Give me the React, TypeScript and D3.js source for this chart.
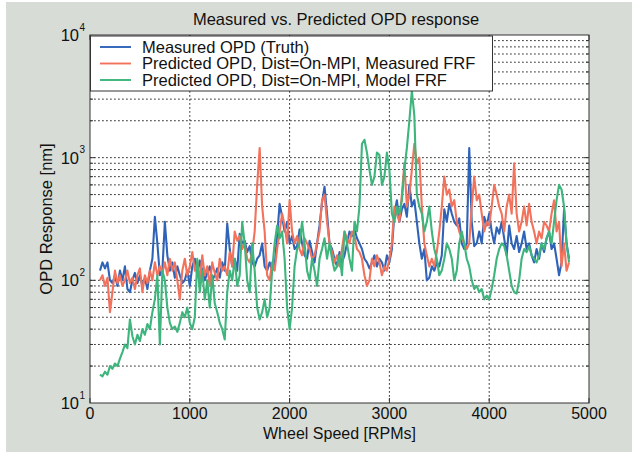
import React, { useEffect, useRef } from 'react';
import * as d3 from 'd3';

// wheel speed grid: 100 .. 4800 RPM, every 25 RPM
const rpmStart = 100;
const rpmStep = 25;

const measuredTruth = [
  120, 140, 125, 140, 100, 95, 110, 90,
  120, 100, 130, 85, 80, 100, 115, 95,
  110, 90, 105, 85, 120, 150, 330, 200,
  110, 120, 300, 160, 120, 140, 105, 130,
  110, 95, 100, 120, 90, 130, 150, 110,
  145, 120, 100, 115, 130, 100, 110, 125,
  105, 140, 120, 290, 180, 130, 150, 120,
  240, 200, 210, 170, 190, 140, 130, 150,
  160, 200, 130, 120, 140, 120, 130, 230,
  420, 330, 250, 300, 200, 230, 180, 190,
  260, 200, 160, 150, 210, 170, 140, 200,
  280, 430, 580, 350, 200, 180, 150, 130,
  170, 140, 160, 200, 250, 230, 260, 220,
  200, 180, 150, 140, 125, 140, 160, 130,
  150, 140, 120, 160, 140, 180, 350, 450,
  300, 380, 420, 330, 600, 400, 450, 300,
  200, 150, 180, 100, 105, 130, 120, 140,
  130, 160, 380, 300, 420, 350, 300, 280,
  320, 200, 180, 200, 1200, 300, 190, 200,
  250, 200, 330, 280, 350, 250, 200, 270,
  240, 300, 220, 160, 280, 200, 180, 230,
  170, 200, 250, 180, 200, 160, 140, 180,
  150, 200, 170, 220, 250, 180, 200, 150,
  110, 140, 380, 200, 150,
];

const predictedMeasuredFrf = [
  100, 110, 90, 105, 55, 80, 120, 95,
  110, 90, 100, 120, 95, 105, 85, 110,
  125, 80, 110, 95, 120, 100, 140, 110,
  130, 115, 140, 110, 150, 120, 140, 100,
  70, 120, 150, 110, 130, 170, 120, 140,
  100, 160, 110, 130, 90, 140, 115, 100,
  150, 120, 130, 110, 170, 130, 250, 210,
  230, 180, 200, 150, 140, 170, 250, 600,
  1200, 400, 250, 110, 100, 140, 120, 180,
  250, 350, 280, 200, 450, 250, 200, 230,
  180, 160, 220, 200, 180, 150, 160, 200,
  250, 450, 500, 300, 200, 170, 140, 160,
  130, 180, 250, 220, 200, 250, 230, 180,
  170, 150, 110, 90, 100, 150, 130, 160,
  140, 110, 130, 120, 150, 200, 400, 350,
  300, 500, 900, 400, 500, 800, 1300, 900,
  1000, 400, 200, 160, 130, 150, 130, 170,
  250, 400, 700, 500, 550, 400, 450, 300,
  250, 220, 200, 180, 200, 400, 700, 450,
  500, 350, 250, 300, 280, 400, 600, 500,
  400, 350, 250, 400, 500, 350, 900, 350,
  250, 300, 400, 280, 420, 300, 250, 200,
  250, 220, 300, 280, 250, 350, 450, 250,
  300, 130, 200, 120, 140,
];

const predictedModelFrf = [
  17, 16.5, 18, 17, 20, 19, 21, 20,
  23, 26, 30, 28, 48, 35, 30, 36,
  32, 40, 36, 44, 40, 55, 70, 110,
  30, 120, 100, 60, 45, 40, 42, 38,
  45, 55, 50, 60, 45, 40, 50, 150,
  80, 120, 70, 100, 60, 110, 65, 55,
  45, 40, 33, 80, 120, 100, 150, 90,
  110, 300, 200, 100, 80, 200, 120, 60,
  48, 55, 70, 50, 60, 120, 200, 280,
  220, 250, 150, 60, 40, 60, 130, 180,
  200, 300, 200, 120, 100, 150, 120, 90,
  150, 180, 220, 150, 200, 150, 120, 130,
  160, 110, 250, 200, 150, 120, 300, 250,
  400, 1300, 1400, 1100, 800, 600, 700, 1100,
  1050, 600, 700, 1100, 800, 350, 300, 400,
  350, 450, 800, 1200, 2000, 3500, 2200, 500,
  400, 350, 250, 300, 400, 250, 180, 150,
  110, 120, 150, 200, 180, 150, 100, 120,
  200, 250, 200, 150, 130, 100, 85, 90,
  80, 85, 70, 75, 70, 85, 110, 150,
  180, 200, 190, 160, 120, 90, 80, 78,
  100, 150, 180, 170, 190, 160, 150, 140,
  160, 200, 180, 220, 250, 200, 300, 450,
  600, 550, 400, 200, 140,
];

const xTicks = [0, 1000, 2000, 3000, 4000, 5000];
const yExponents = [1, 2, 3, 4];
const legendLabels = [
  'Measured OPD (Truth)',
  'Predicted OPD, Dist=On-MPI, Measured FRF',
  'Predicted OPD, Dist=On-MPI, Model FRF',
];
const seriesColors = ['#2f63b8', '#f2725c', '#3db57c'];

const App = () => {
  const ref = useRef<SVGSVGElement | null>(null);

  useEffect(() => {
    const svg = d3.select(ref.current);
    svg.selectAll('*').remove();

    const W = 639, H = 456;
    const left = 90, right = 589, top = 35, bottom = 403;
    const font = 'Arial, "Liberation Sans", Helvetica, sans-serif';

    const x = d3.scaleLinear().domain([0, 5000]).range([left, right]);
    const y = d3.scaleLog().domain([10, 10000]).range([bottom, top]);

    svg.append('rect').attr('width', W).attr('height', H).attr('fill', '#fff');
    svg.append('rect')
      .attr('x', 6).attr('y', 2).attr('width', 626).attr('height', 450)
      .attr('fill', '#d8dcd6');
    svg.append('rect')
      .attr('x', left).attr('y', top)
      .attr('width', right - left).attr('height', bottom - top)
      .attr('fill', '#fff');

    // grid
    const grid = svg.append('g')
      .attr('stroke', '#3a3a3a').attr('stroke-width', 1)
      .attr('stroke-dasharray', '1.8,2.2');
    const yGrid: number[] = [];
    [10, 100, 1000].forEach(d => {
      for (let m = 1; m <= 9; m++) {
        const v = m * d;
        if (v > 10) yGrid.push(v);
      }
    });
    yGrid.forEach(v => {
      grid.append('line')
        .attr('x1', left).attr('x2', right)
        .attr('y1', y(v)).attr('y2', y(v));
    });
    xTicks.slice(1, -1).forEach(v => {
      grid.append('line')
        .attr('x1', x(v)).attr('x2', x(v))
        .attr('y1', top).attr('y2', bottom);
    });

    // series
    const rpm = (i: number) => rpmStart + rpmStep * i;
    const line = d3.line<number>()
      .x((_, i) => x(rpm(i)))
      .y(d => y(d));
    [measuredTruth, predictedMeasuredFrf, predictedModelFrf].forEach((s, k) => {
      svg.append('path')
        .datum(s)
        .attr('fill', 'none')
        .attr('stroke', seriesColors[k])
        .attr('stroke-width', 2.1)
        .attr('stroke-linejoin', 'round')
        .attr('d', line);
    });

    // box + ticks
    const axes = svg.append('g').attr('stroke', '#333').attr('stroke-width', 1);
    axes.append('rect')
      .attr('x', left).attr('y', top)
      .attr('width', right - left).attr('height', bottom - top)
      .attr('fill', 'none');
    xTicks.forEach(v => {
      axes.append('line').attr('x1', x(v)).attr('x2', x(v)).attr('y1', bottom).attr('y2', bottom - 5);
      axes.append('line').attr('x1', x(v)).attr('x2', x(v)).attr('y1', top).attr('y2', top + 5);
    });
    yGrid.forEach(v => {
      const len = [100, 1000].includes(v) ? 5 : 3;
      axes.append('line').attr('x1', left).attr('x2', left + len).attr('y1', y(v)).attr('y2', y(v));
      axes.append('line').attr('x1', right).attr('x2', right - len).attr('y1', y(v)).attr('y2', y(v));
    });

    // tick labels
    xTicks.forEach(v => {
      svg.append('text')
        .attr('x', x(v)).attr('y', 419)
        .attr('text-anchor', 'middle')
        .style('font-family', font).style('font-size', '16px')
        .attr('fill', '#111')
        .text(v);
    });
    yExponents.forEach(e => {
      const yy = y(Math.pow(10, e));
      svg.append('text')
        .attr('x', 79).attr('y', yy + 6)
        .attr('text-anchor', 'end')
        .style('font-family', font).style('font-size', '16.5px')
        .attr('fill', '#111')
        .text('10');
      svg.append('text')
        .attr('x', 79.5).attr('y', yy - 4.5)
        .style('font-family', font).style('font-size', '10px')
        .attr('fill', '#111')
        .text(e);
    });

    // titles
    svg.append('text')
      .attr('x', 336).attr('y', 25)
      .attr('text-anchor', 'middle')
      .style('font-family', font).style('font-size', '16.5px')
      .attr('fill', '#111')
      .text('Measured vs. Predicted OPD response');
    svg.append('text')
      .attr('x', (left + right) / 2).attr('y', 439)
      .attr('text-anchor', 'middle')
      .style('font-family', font).style('font-size', '16px')
      .attr('fill', '#111')
      .text('Wheel Speed [RPMs]');
    svg.append('text')
      .attr('transform', `translate(52,${(top + bottom) / 2}) rotate(-90)`)
      .attr('text-anchor', 'middle')
      .style('font-family', font).style('font-size', '16.5px')
      .attr('fill', '#111')
      .text('OPD Response [nm]');

    // legend
    const lg = svg.append('g');
    lg.append('rect')
      .attr('x', 90.5).attr('y', 36).attr('width', 402).attr('height', 55)
      .attr('fill', '#fff').attr('stroke', '#333').attr('stroke-width', 1);
    legendLabels.forEach((label, i) => {
      const ly = 47 + i * 16.5;
      lg.append('line')
        .attr('x1', 100).attr('x2', 131).attr('y1', ly).attr('y2', ly)
        .attr('stroke', seriesColors[i]).attr('stroke-width', 1.9);
      lg.append('text')
        .attr('x', 142).attr('y', ly + 5.5)
        .style('font-family', font).style('font-size', '16.5px')
        .attr('fill', '#111')
        .text(label);
    });
  }, []);

  return (
    <div style={{ position: 'absolute', left: 0, top: 0 }}>
      <svg ref={ref} width={639} height={456} style={{ display: 'block' }} />
    </div>
  );
};

export default App;
